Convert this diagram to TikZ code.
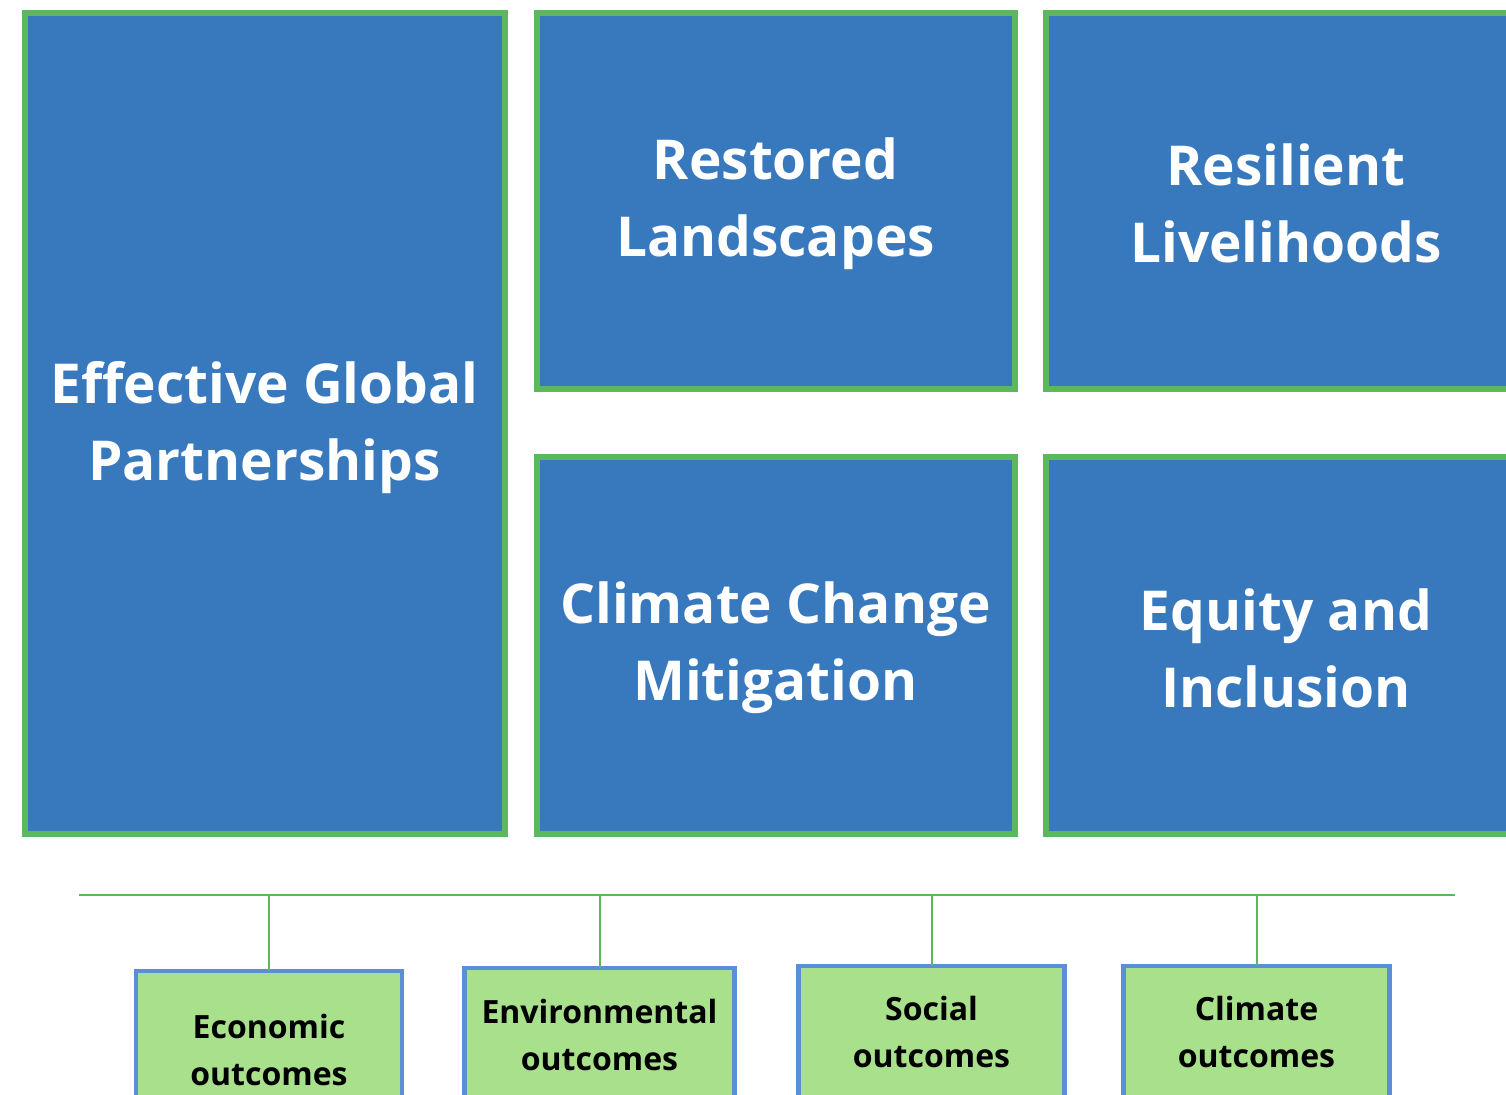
\documentclass[tikz,border=0pt]{standalone}
\usepackage{fontspec}
\setmainfont{Open Sans}[Ligatures=NoCommon]
\definecolor{boxblue}{HTML}{3879BD}
\definecolor{boxgreen}{HTML}{5CB85C}
\definecolor{lightgreen}{HTML}{A8E08B}
\definecolor{edgeblue}{HTML}{5B8ED4}
\tikzset{
  bigbox/.style={draw=boxgreen, line width=3pt, fill=boxblue, rectangle, inner sep=0pt, outer sep=0pt},
  bigtext/.style={text=white, align=center, inner sep=0pt, font=\fontsize{27.5}{38.5}\selectfont\bfseries},
  outbox/.style={draw=edgeblue, line width=2.2pt, fill=lightgreen, rectangle, inner sep=0pt, outer sep=0pt,
    text=black, align=center, font=\fontsize{16}{23.5}\selectfont\bfseries},
  link/.style={draw=boxgreen, line width=1pt}
}
\begin{document}
\begin{tikzpicture}[x=0.5pt,y=-0.5pt]
\useasboundingbox (0,0) rectangle (1506,1094);
\clip (0,0) rectangle (1506,1094);
\node[bigbox, minimum width=240pt, minimum height=410.5pt] (egp) at (264.5,423) {};
\node[bigbox, minimum width=239pt, minimum height=188pt] (rl) at (775.5,200.5) {};
\node[bigbox, minimum width=240pt, minimum height=188pt] (rv) at (1286,200.5) {};
\node[bigbox, minimum width=239pt, minimum height=188.5pt] (ccm) at (775.5,645) {};
\node[bigbox, minimum width=240pt, minimum height=188.5pt] (ei) at (1286,645) {};

\node[bigtext] (egpt) at ([yshift=-2.5pt]egp.center) {Effective Global\\Partnerships};
\node[bigtext] (rlt) at ([yshift=-1.5pt]rl.center) {Restored\\Landscapes};
\node[bigtext] (rvt) at ([yshift=-1.5pt]rv.center) {Resilient\\Livelihoods};
\node[bigtext] (ccmt) at ([yshift=-1.5pt]ccm.center) {Climate Change\\Mitigation};
\node[bigtext] (eit) at ([yshift=-1.5pt]ei.center) {Equity and\\Inclusion};

\coordinate (hl) at (79,895);
\coordinate (hr) at (1455,895);
\draw[link, line width=1.1pt] (hl) -- (hr);

\node[outbox, minimum width=133pt, minimum height=79pt, anchor=north] (eco) at (269,971) {Economic\\outcomes};
\node[outbox, minimum width=135pt, minimum height=67pt, anchor=north] (env) at (599.5,968) {Environmental\\outcomes};
\node[outbox, minimum width=133pt, minimum height=66pt, anchor=north] (soc) at (931.5,966) {Social\\outcomes};
\node[outbox, minimum width=133pt, minimum height=66pt, anchor=north] (cli) at (1256.5,966) {Climate\\outcomes};

\foreach \n in {eco,env,soc,cli} {
  \draw[link] (\n.north) -- (\n.north |- hl);
}
\end{tikzpicture}
\end{document}
